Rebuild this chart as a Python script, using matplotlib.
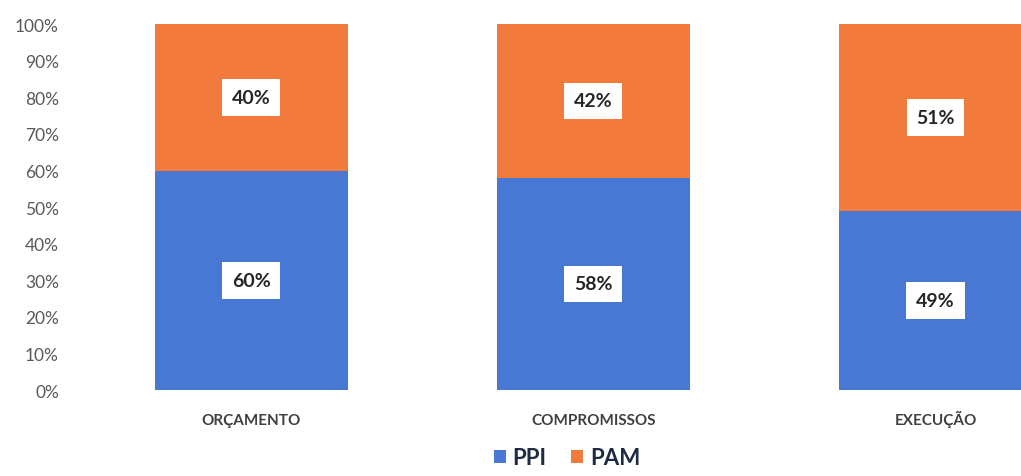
import matplotlib.pyplot as plt
from matplotlib.ticker import PercentFormatter
from matplotlib.transforms import blended_transform_factory

plt.rcParams['font.family'] = ['Lato', 'DejaVu Sans']

categorias = ['ORÇAMENTO', 'COMPROMISSOS', 'EXECUÇÃO']
ppi = [60, 58, 49]
pam = [40, 42, 51]
cor_ppi = '#4878D3'
cor_pam = '#F27A3C'

fig = plt.figure(figsize=(10.21, 4.77), dpi=100)
ax = fig.add_axes([70 / 1021, 0.180, 1 - 70 / 1021, 0.7673])

x = list(range(len(categorias)))
largura = 0.565
b1 = ax.bar(x, ppi, largura, color=cor_ppi, label='PPI')
b2 = ax.bar(x, pam, largura, bottom=ppi, color=cor_pam, label='PAM')

# rótulos de dados com caixa branca no meio de cada segmento
caixa = dict(boxstyle='square,pad=0.5', fc='white', ec='none')
for i in x:
    ax.text(i, ppi[i] / 2, f'{ppi[i]}%', ha='center', va='center',
            fontsize=14, fontweight='bold', color='#262626', bbox=caixa)
    ax.text(i, ppi[i] + pam[i] / 2, f'{pam[i]}%', ha='center', va='center',
            fontsize=14, fontweight='bold', color='#262626', bbox=caixa)

ax.set_ylim(0, 100)
ax.set_xlim(-0.53, 2.25)
ax.set_yticks(range(0, 101, 10))
ax.yaxis.set_major_formatter(PercentFormatter(decimals=0))
ax.tick_params(axis='y', length=0, labelsize=12.5, labelcolor='#595959', pad=8)
ax.set_xticks([])
# nomes das categorias com a mesma linha de base
trans = blended_transform_factory(ax.transData, fig.transFigure)
for i, nome in zip(x, categorias):
    ax.text(i, 1 - 425 / 477, nome, transform=trans, ha='center', va='baseline',
            fontsize=11, fontweight='bold', color='#404040')
for s in ax.spines.values():
    s.set_visible(False)

leg = fig.legend(handles=[b1, b2], loc='center', bbox_to_anchor=(567 / 1021, 1 - 459 / 477),
                 ncol=2, frameon=False, handlelength=0.55, handleheight=0.55,
                 handletextpad=0.3, columnspacing=1.1, fontsize=16)
for t in leg.get_texts():
    t.set_color('#1F2A44')
    t.set_fontweight('bold')

fig.savefig('out.png', dpi=100)
